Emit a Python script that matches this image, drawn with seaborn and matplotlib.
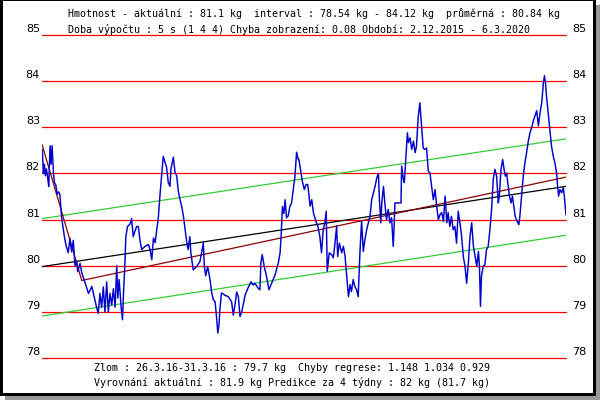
import matplotlib
matplotlib.use("Agg")
import matplotlib.pyplot as plt
from matplotlib.patches import Rectangle
import seaborn as sns
import pandas as pd

# ---------------- data ----------------
days = [1, 4, 7, 10, 13, 17, 20, 24, 27, 30, 34, 37, 41, 45, 49, 53, 58, 63, 68, 73,
        78, 83, 88, 93, 98, 103, 106, 113, 118, 128, 138, 148, 157, 162, 167, 172, 177,
        182, 187, 192, 197, 202, 207, 212, 217, 222, 225, 229, 235, 239, 242, 246, 249,
        254, 261, 266, 271, 276, 281, 286, 291, 296, 306, 316, 321, 326, 331, 336, 341,
        345, 350, 355, 360, 365, 370, 375, 380,
        383, 390, 395, 400, 405, 410, 415, 420, 425, 430, 434, 439, 442, 449, 459, 469,
        474, 479, 482, 486, 492, 499, 504, 509, 514, 519, 522, 526, 528, 533, 538, 543,
        553, 563, 568, 573, 578, 583, 588, 593, 598, 603, 613, 621, 627, 632, 642, 647,
        650, 654, 660, 667, 674, 682, 692, 702, 707, 710, 714, 718, 722, 726, 731, 736,
        741, 746, 751, 756, 761,
        763, 766, 769, 773, 779, 784, 789, 793, 796, 801, 806, 813, 819, 825, 830, 835,
        840, 844, 847, 853, 860, 865, 870, 875, 878, 883, 890, 895, 900, 905, 910, 915,
        919, 924, 929, 934, 939, 944, 949, 954, 959, 964, 969, 974, 979, 984, 989, 994,
        999, 1002, 1006, 1009, 1014, 1018, 1023, 1028, 1033, 1038, 1043, 1046, 1048,
        1058, 1066, 1068, 1073, 1076, 1080, 1085, 1088, 1093, 1098, 1103, 1108, 1112,
        1117, 1122, 1127, 1132, 1137, 1142, 1147, 1152, 1157, 1162, 1167,
        1172, 1177, 1182, 1187, 1192, 1197, 1202, 1206, 1211, 1216, 1221, 1226, 1231,
        1236, 1241, 1246, 1251, 1256, 1261, 1266, 1271, 1276, 1281, 1286, 1291, 1296,
        1299, 1302, 1305, 1310, 1315, 1320, 1325, 1330, 1335, 1340, 1345, 1350, 1355,
        1358, 1363, 1368, 1372, 1376, 1380, 1383, 1388, 1393, 1397, 1401, 1405, 1411,
        1416, 1419, 1424, 1429, 1434, 1439, 1444, 1449, 1454, 1459, 1464, 1469, 1474,
        1479, 1484, 1489, 1492, 1495, 1498, 1503, 1508, 1513, 1518, 1523, 1528, 1531,
        1534, 1538, 1543, 1548, 1551, 1556]

weight = [82.52, 82.0, 82.2, 81.95, 82.1, 81.9, 81.72, 82.6, 82.2, 82.6, 82.0, 81.8,
          81.75, 81.55, 81.6, 81.55, 81.07, 80.8, 80.56, 80.4, 80.28, 80.6, 80.3, 80.55,
          80.0, 80.1, 79.87, 80.05, 79.85, 79.63, 79.4, 79.55, 79.26, 79.1, 78.97, 79.4,
          79.1, 79.54, 79.0, 79.65, 79.0, 79.4, 79.15, 79.5, 79.1, 80.0, 79.3, 79.7, 79.1,
          78.83, 79.4, 80.0, 80.63, 80.85, 80.9, 81.02, 80.63, 80.75, 80.85, 80.85, 80.55,
          80.35, 80.42, 80.46, 80.35, 80.13, 80.6, 80.5, 80.8, 81.0, 81.5, 81.93, 82.37,
          82.25, 82.13, 81.8, 81.72,
          82.1, 82.35, 82.02, 81.95, 81.6, 81.43, 81.28, 81.07, 80.78, 80.5, 80.35, 80.63,
          80.28, 79.91, 79.98, 80.09, 80.28, 80.5, 80.0, 79.78, 79.98, 79.7, 79.41, 79.26,
          79.22, 78.83, 78.54, 78.75, 79.04, 79.41, 79.39, 79.36, 79.33, 79.22, 78.93,
          79.15, 79.43, 79.33, 78.9, 79.0, 79.17, 79.36, 79.54, 79.65, 79.58, 79.62, 79.51,
          79.48, 80.07, 80.24, 79.98, 79.76, 79.48, 79.62, 79.8, 80.07, 80.28, 80.63,
          81.28, 81.13, 81.43, 81.04, 81.08, 81.28, 81.36, 81.65, 81.93, 82.46, 82.3,
          82.3, 82.16, 82.01, 81.83, 81.65, 81.76, 81.76, 81.51, 81.29, 81.43, 81.15,
          80.97, 80.86, 80.64, 80.28, 80.78, 80.93, 81.18, 79.88, 80.28, 80.24, 80.17,
          80.49, 80.86, 80.2, 80.49, 80.28, 80.42, 80.2, 79.77, 79.33, 79.59, 79.44, 79.7,
          79.55, 79.48, 79.33, 80.28, 80.97, 80.31, 80.57, 80.78, 80.93, 81.07, 81.43,
          81.58, 81.72, 81.9, 82.0, 81.43, 80.93, 81.36, 81.72, 81.36, 81.0, 81.22, 80.93,
          81.04, 80.42, 80.93, 81.36, 81.36, 81.36, 82.16, 81.87, 81.8, 82.27, 82.88,
          82.67, 82.77, 82.52, 82.7, 82.45, 82.59, 83.21, 83.53, 83.03, 82.55, 82.52,
          82.55, 82.05, 82.01, 81.72, 81.43, 81.65,
          81.29, 81.0, 81.11, 81.15, 80.96, 81.51, 80.93, 81.15, 80.85, 81.07, 80.78,
          80.85, 80.49, 81.18, 80.93, 80.64, 80.2, 79.99, 79.62, 80.06, 80.64, 80.93,
          80.42, 80.2, 79.99, 80.31, 79.99, 79.12, 79.77, 79.99, 80.02, 80.35, 80.42,
          80.78, 81.22, 81.87, 82.09, 81.94, 81.36, 81.51, 82.09, 82.3, 82.09, 81.94,
          82.01, 81.8, 81.51, 81.36, 81.51, 81.29, 81.07, 80.96, 80.89, 81.07, 81.51,
          81.94, 82.23, 82.45, 82.7, 82.88, 82.99, 83.14, 83.25, 83.36, 83.03, 83.32,
          83.54, 83.97, 84.12, 83.97, 83.68, 83.32, 82.96, 82.59, 82.38, 82.23, 82.01,
          81.72, 81.51, 81.65, 81.58, 81.69, 81.51, 81.1]

period_days = [0, 1556]
trend_kg = [79.98, 81.72]          # black regression line
band_upper_kg = [81.02, 82.75]     # green band
band_lower_kg = [78.91, 80.66]
break_days = [0, 118, 1556]        # broken regression (Zlom)
break_kg = [82.63, 79.68, 81.92]
grid_levels = [78, 79, 80, 81, 82, 83, 84, 85]

header1 = "Hmotnost - aktuální : 81.1 kg  interval : 78.54 kg - 84.12 kg  průměrná : 80.84 kg"
header2 = "Doba výpočtu : 5 s (1 4 4) Chyba zobrazení: 0.08 Období: 2.12.2015 - 6.3.2020"
footer1 = "Zlom : 26.3.16-31.3.16 : 79.7 kg  Chyby regrese: 1.148 1.034 0.929"
footer2 = "Vyrovnání aktuální : 81.9 kg Predikce za 4 týdny : 82 kg (81.7 kg)"

# ---------------- figure ----------------
sns.set_theme(style="white")
plt.rcParams['font.family'] = ['DejaVu Sans']

W, H = 600, 400
fig = plt.figure(figsize=(6, 4), dpi=100)
fig.patch.set_facecolor("white")
ax = fig.add_axes([42 / W, (H - 358) / H, 524 / W, 323 / H])
ax.set_xlim(period_days[0], period_days[1])
ax.set_ylim(78, 85)
ax.axis("off")

for lv in grid_levels:
    ax.axhline(lv, color="#ff0000", lw=0.9, clip_on=False, zorder=1)
    ax.annotate(str(lv), xy=(0, lv), xycoords=("axes fraction", "data"),
                xytext=(-1.5, 4.3), textcoords="offset points",
                ha="right", va="center", fontsize=8, color="black")
    ax.annotate(str(lv), xy=(1, lv), xycoords=("axes fraction", "data"),
                xytext=(4.3, 4.3), textcoords="offset points",
                ha="left", va="center", fontsize=8, color="black")

lw = 0.9
sns.lineplot(x=period_days, y=band_upper_kg, color="#33cc33", lw=lw, ax=ax, zorder=2)
sns.lineplot(x=period_days, y=band_lower_kg, color="#33cc33", lw=lw, ax=ax, zorder=2)
sns.lineplot(x=period_days, y=trend_kg, color="black", lw=lw, ax=ax, zorder=3)
sns.lineplot(x=break_days, y=break_kg, color="#8b0000", lw=lw, ax=ax, zorder=3)

df = pd.DataFrame({"day": days, "kg": weight})
sns.lineplot(data=df, x="day", y="kg", color="#0000cc", lw=1.05, ax=ax,
             estimator=None, sort=False, zorder=4)
ax.set_xlim(period_days[0], period_days[1])
ax.set_ylim(78, 85)
ax.axis("off")

mono = dict(family="DejaVu Sans Mono", fontsize=7.2, color="black", va="center", ha="left")
fig.text(68 / W, 1 - 14 / H, header1, **mono)
fig.text(68 / W, 1 - 29.5 / H, header2, **mono)
fig.text(94 / W, 1 - 368 / H, footer1, **mono)
fig.text(94 / W, 1 - 383 / H, footer2, **mono)

# frame with shadow
gray = "#999999"
fig.add_artist(Rectangle((5 / W, 0), 595 / W, 4 / H, transform=fig.transFigure,
                         facecolor=gray, edgecolor="none"))
fig.add_artist(Rectangle((596 / W, 0), 4 / W, 395 / H, transform=fig.transFigure,
                         facecolor=gray, edgecolor="none"))
fig.add_artist(Rectangle((0, 4 / H), 3 / W, 396 / H, transform=fig.transFigure,
                         facecolor="black", edgecolor="none"))
fig.add_artist(Rectangle((593 / W, 4 / H), 3 / W, 396 / H, transform=fig.transFigure,
                         facecolor="black", edgecolor="none"))
fig.add_artist(Rectangle((0, 4 / H), 596 / W, 3 / H, transform=fig.transFigure,
                         facecolor="black", edgecolor="none"))
fig.add_artist(Rectangle((0, 399 / H), 596 / W, 1 / H, transform=fig.transFigure,
                         facecolor="black", edgecolor="none"))

fig.savefig("out.png", dpi=100)
